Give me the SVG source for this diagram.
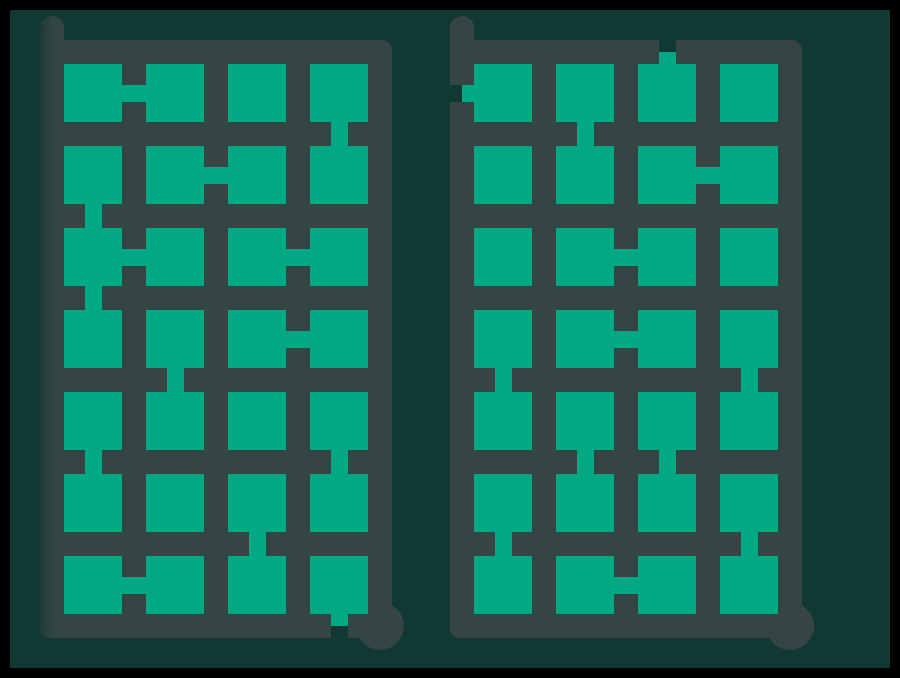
<svg xmlns="http://www.w3.org/2000/svg" width="900" height="678" viewBox="0 0 900 678">
<style>
.bg{fill:#113832}
.frame{fill:#344544}
.cell{fill:#00a884}
.pass{fill:#00a884}
.gap{fill:#113832}
</style>
<defs>
<linearGradient id="pillarShade" x1="40" y1="0" x2="64" y2="0" gradientUnits="userSpaceOnUse">
<stop offset="0" stop-color="#1c3b36"/>
<stop offset="0.55" stop-color="#334544"/>
<stop offset="1" stop-color="#344544"/>
</linearGradient>
</defs>
<rect x="0" y="0" width="900" height="678" fill="#000"/>
<rect class="bg" x="10" y="10" width="880" height="658"/>

<g id="left-panel">
<g id="left-frame">
<rect class="frame" x="40" y="40" width="352" height="598" rx="10"/>
<path d="M40,28 A12,12 0 0 1 64,28 V638 H50 A10,10 0 0 1 40,628 Z" fill="url(#pillarShade)"/>
<circle id="left-knob" class="frame" cx="380" cy="626" r="24"/>
</g>
<g id="L-r0c0"><rect class="cell" x="64" y="64" width="58" height="58"/></g>
<g id="L-r0c1"><rect class="cell" x="146" y="64" width="58" height="58"/></g>
<g id="L-r0c2"><rect class="cell" x="228" y="64" width="58" height="58"/></g>
<g id="L-r0c3"><rect class="cell" x="310" y="64" width="58" height="58"/></g>
<g id="L-r1c0"><rect class="cell" x="64" y="146" width="58" height="58"/></g>
<g id="L-r1c1"><rect class="cell" x="146" y="146" width="58" height="58"/></g>
<g id="L-r1c2"><rect class="cell" x="228" y="146" width="58" height="58"/></g>
<g id="L-r1c3"><rect class="cell" x="310" y="146" width="58" height="58"/></g>
<g id="L-r2c0"><rect class="cell" x="64" y="228" width="58" height="58"/></g>
<g id="L-r2c1"><rect class="cell" x="146" y="228" width="58" height="58"/></g>
<g id="L-r2c2"><rect class="cell" x="228" y="228" width="58" height="58"/></g>
<g id="L-r2c3"><rect class="cell" x="310" y="228" width="58" height="58"/></g>
<g id="L-r3c0"><rect class="cell" x="64" y="310" width="58" height="58"/></g>
<g id="L-r3c1"><rect class="cell" x="146" y="310" width="58" height="58"/></g>
<g id="L-r3c2"><rect class="cell" x="228" y="310" width="58" height="58"/></g>
<g id="L-r3c3"><rect class="cell" x="310" y="310" width="58" height="58"/></g>
<g id="L-r4c0"><rect class="cell" x="64" y="392" width="58" height="58"/></g>
<g id="L-r4c1"><rect class="cell" x="146" y="392" width="58" height="58"/></g>
<g id="L-r4c2"><rect class="cell" x="228" y="392" width="58" height="58"/></g>
<g id="L-r4c3"><rect class="cell" x="310" y="392" width="58" height="58"/></g>
<g id="L-r5c0"><rect class="cell" x="64" y="474" width="58" height="58"/></g>
<g id="L-r5c1"><rect class="cell" x="146" y="474" width="58" height="58"/></g>
<g id="L-r5c2"><rect class="cell" x="228" y="474" width="58" height="58"/></g>
<g id="L-r5c3"><rect class="cell" x="310" y="474" width="58" height="58"/></g>
<g id="L-r6c0"><rect class="cell" x="64" y="556" width="58" height="58"/></g>
<g id="L-r6c1"><rect class="cell" x="146" y="556" width="58" height="58"/></g>
<g id="L-r6c2"><rect class="cell" x="228" y="556" width="58" height="58"/></g>
<g id="L-r6c3"><rect class="cell" x="310" y="556" width="58" height="58"/></g>
</g>

<g id="right-panel">
<g id="right-frame">
<rect class="frame" x="450" y="40" width="352" height="598" rx="10"/>
<path class="frame" d="M450,28 A12,12 0 0 1 474,28 V60 H450 Z"/>
<circle id="right-knob" class="frame" cx="790" cy="626" r="24"/>
</g>
<g id="R-r0c0"><rect class="cell" x="474" y="64" width="58" height="58"/></g>
<g id="R-r0c1"><rect class="cell" x="556" y="64" width="58" height="58"/></g>
<g id="R-r0c2"><rect class="cell" x="638" y="64" width="58" height="58"/></g>
<g id="R-r0c3"><rect class="cell" x="720" y="64" width="58" height="58"/></g>
<g id="R-r1c0"><rect class="cell" x="474" y="146" width="58" height="58"/></g>
<g id="R-r1c1"><rect class="cell" x="556" y="146" width="58" height="58"/></g>
<g id="R-r1c2"><rect class="cell" x="638" y="146" width="58" height="58"/></g>
<g id="R-r1c3"><rect class="cell" x="720" y="146" width="58" height="58"/></g>
<g id="R-r2c0"><rect class="cell" x="474" y="228" width="58" height="58"/></g>
<g id="R-r2c1"><rect class="cell" x="556" y="228" width="58" height="58"/></g>
<g id="R-r2c2"><rect class="cell" x="638" y="228" width="58" height="58"/></g>
<g id="R-r2c3"><rect class="cell" x="720" y="228" width="58" height="58"/></g>
<g id="R-r3c0"><rect class="cell" x="474" y="310" width="58" height="58"/></g>
<g id="R-r3c1"><rect class="cell" x="556" y="310" width="58" height="58"/></g>
<g id="R-r3c2"><rect class="cell" x="638" y="310" width="58" height="58"/></g>
<g id="R-r3c3"><rect class="cell" x="720" y="310" width="58" height="58"/></g>
<g id="R-r4c0"><rect class="cell" x="474" y="392" width="58" height="58"/></g>
<g id="R-r4c1"><rect class="cell" x="556" y="392" width="58" height="58"/></g>
<g id="R-r4c2"><rect class="cell" x="638" y="392" width="58" height="58"/></g>
<g id="R-r4c3"><rect class="cell" x="720" y="392" width="58" height="58"/></g>
<g id="R-r5c0"><rect class="cell" x="474" y="474" width="58" height="58"/></g>
<g id="R-r5c1"><rect class="cell" x="556" y="474" width="58" height="58"/></g>
<g id="R-r5c2"><rect class="cell" x="638" y="474" width="58" height="58"/></g>
<g id="R-r5c3"><rect class="cell" x="720" y="474" width="58" height="58"/></g>
<g id="R-r6c0"><rect class="cell" x="474" y="556" width="58" height="58"/></g>
<g id="R-r6c1"><rect class="cell" x="556" y="556" width="58" height="58"/></g>
<g id="R-r6c2"><rect class="cell" x="638" y="556" width="58" height="58"/></g>
<g id="R-r6c3"><rect class="cell" x="720" y="556" width="58" height="58"/></g>
</g>

<g id="connectors">
<!-- left panel horizontal -->
<rect class="pass" x="122" y="85" width="24" height="17"/>
<rect class="pass" x="204" y="167" width="24" height="17"/>
<rect class="pass" x="122" y="249" width="24" height="17"/>
<rect class="pass" x="286" y="249" width="24" height="17"/>
<rect class="pass" x="286" y="331" width="24" height="17"/>
<rect class="pass" x="122" y="577" width="24" height="17"/>
<!-- left panel vertical -->
<rect class="pass" x="331" y="122" width="17" height="24"/>
<rect class="pass" x="85" y="204" width="17" height="24"/>
<rect class="pass" x="85" y="286" width="17" height="24"/>
<rect class="pass" x="167" y="368" width="17" height="24"/>
<rect class="pass" x="85" y="450" width="17" height="24"/>
<rect class="pass" x="331" y="450" width="17" height="24"/>
<rect class="pass" x="249" y="532" width="17" height="24"/>
<!-- left exit -->
<rect class="pass" x="331" y="614" width="17" height="12"/>
<rect class="gap" x="331" y="626" width="17" height="12"/>
<!-- right panel horizontal -->
<rect class="pass" x="696" y="167" width="24" height="17"/>
<rect class="pass" x="614" y="249" width="24" height="17"/>
<rect class="pass" x="614" y="331" width="24" height="17"/>
<rect class="pass" x="614" y="577" width="24" height="17"/>
<!-- right panel vertical -->
<rect class="pass" x="577" y="122" width="17" height="24"/>
<rect class="pass" x="495" y="368" width="17" height="24"/>
<rect class="pass" x="741" y="368" width="17" height="24"/>
<rect class="pass" x="577" y="450" width="17" height="24"/>
<rect class="pass" x="659" y="450" width="17" height="24"/>
<rect class="pass" x="495" y="532" width="17" height="24"/>
<rect class="pass" x="741" y="532" width="17" height="24"/>
<!-- right entrances -->
<rect class="pass" x="462" y="85" width="12" height="17"/>
<rect class="gap" x="450" y="85" width="12" height="17"/>
<rect class="pass" x="659" y="52" width="17" height="12"/>
<rect class="gap" x="659" y="40" width="17" height="12"/>
</g>
</svg>
